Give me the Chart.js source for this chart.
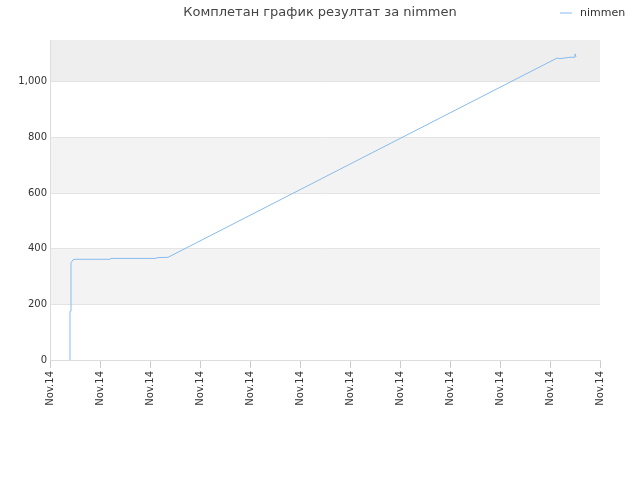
<!DOCTYPE html>
<html>
<head>
<meta charset="utf-8">
<script src="https://cdn.jsdelivr.net/npm/chart.js@4"></script>
<style>body{margin:0;background:#fff}</style>
</head>
<body>
<div style="width:640px;height:480px"><canvas id="c"></canvas></div>
<script>
'use strict';

// данные
let xTicks = ['Nov.14','Nov.14','Nov.14','Nov.14','Nov.14','Nov.14','Nov.14','Nov.14','Nov.14','Nov.14','Nov.14','Nov.14'];
let xPos = [0.4, 0.4, 0.42, 0.42, 0.46, 0.5, 1.2, 1.22, 2.1, 2.16, 2.36, 10.14, 10.2, 10.4, 10.5, 10.5, 10.52];
let yVal = [0, 175, 175, 350, 360, 362, 362, 365, 365, 368, 369, 1085, 1083, 1088, 1088, 1100, 1090];
let title = 'Комплетан график резултат за nimmen';
let seriesName = 'nimmen';

let pts = xPos.map((x, i) => ({x: x, y: yVal[i]}));

// полосы и заголовок
let deco = {
	id: 'deco',
	beforeDraw(chart) {
		let ctx = chart.ctx, y = chart.scales.y, a = chart.chartArea;
		let bands = [[200, 400, '#f3f3f3'], [600, 800, '#f3f3f3'], [1000, 1150, '#eeeeee']];
		bands.forEach(b => {
			ctx.fillStyle = b[2];
			ctx.fillRect(a.left, y.getPixelForValue(b[1]), a.right - a.left, y.getPixelForValue(b[0]) - y.getPixelForValue(b[1]));
		});
	},
	afterDraw(chart) {
		let ctx = chart.ctx;
		ctx.save();
		ctx.font = '13px "DejaVu Sans"';
		ctx.fillStyle = '#444';
		ctx.textAlign = 'center';
		ctx.fillText(title, 320, 16);
		ctx.font = '11px "DejaVu Sans"';
		ctx.textAlign = 'left';
		ctx.fillStyle = '#333';
		ctx.fillText(seriesName, 580, 16);
		ctx.strokeStyle = '#88bbee';
		ctx.beginPath(); ctx.moveTo(560, 13); ctx.lineTo(572, 13); ctx.stroke();
		ctx.restore();
	}
};

new Chart(document.getElementById('c'), {
	type: 'scatter',
	data: {
		datasets: [{
			label: seriesName,
			data: pts,
			showLine: true,
			borderColor: '#88bbee',
			borderWidth: 1,
			pointRadius: 0,
			tension: 0
		}]
	},
	options: {
		responsive: true,
		maintainAspectRatio: false,
		animation: false,
		layout: {padding: {top: 40, left: 0, right: 40, bottom: 0}},
		plugins: {legend: {display: false}, tooltip: {enabled: false}},
		scales: {
			x: {
				type: 'linear', min: 0, max: 11,
				afterFit: s => { s.height = 120; },
				afterBuildTicks: s => { s.ticks = xTicks.map((t, i) => ({value: i})); },
				ticks: {
					callback: (v, i) => xTicks[i],
					minRotation: 90, maxRotation: 90,
					color: '#333', font: {size: 10, family: 'DejaVu Sans'}
				},
				grid: {drawOnChartArea: false, color: '#ccc'},
				border: {color: '#ddd'}
			},
			y: {
				min: 0, max: 1150,
				afterFit: s => { s.width = 50; },
				afterBuildTicks: s => { s.ticks = [0, 200, 400, 600, 800, 1000].map(v => ({value: v})); },
				ticks: {color: '#333', font: {size: 10, family: 'DejaVu Sans'}},
				grid: {color: '#e4e4e4', drawTicks: false},
				border: {color: '#ddd'}
			}
		}
	},
	plugins: [deco]
});
</script>
</body>
</html>
